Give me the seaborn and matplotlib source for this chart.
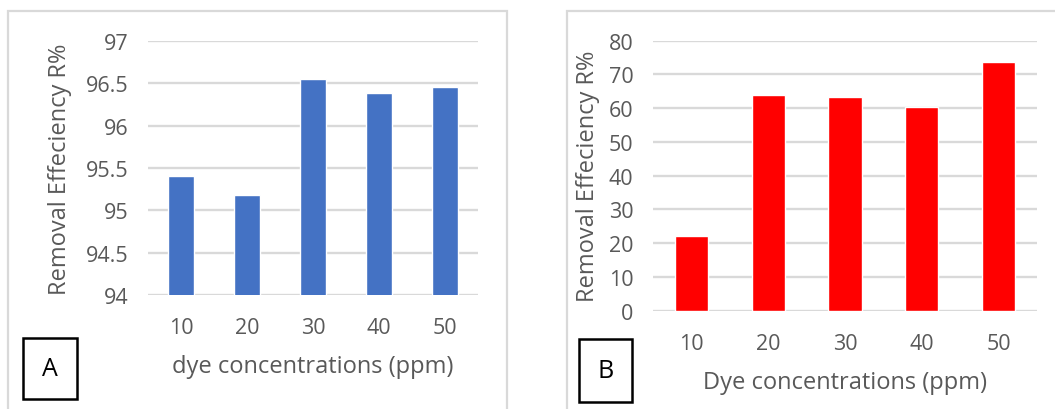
import matplotlib
matplotlib.use("Agg")
import matplotlib.pyplot as plt
from matplotlib.patches import Rectangle
from matplotlib.ticker import FuncFormatter
import seaborn as sns
import pandas as pd

# Data
conc = ["10", "20", "30", "40", "50"]
eff_a = [95.40, 95.18, 96.55, 96.38, 96.46]
eff_b = [22.0, 64.0, 63.2, 60.5, 73.6]
ticks_a = [94, 94.5, 95, 95.5, 96, 96.5, 97]
ticks_b = [0, 10, 20, 30, 40, 50, 60, 70, 80]

sns.set_style("white")
plt.rcParams['font.family'] = ['Open Sans', 'DejaVu Sans']

W, H = 1055, 410
GRAY = "#595959"
GRID = "#d9d9d9"

fig = plt.figure(figsize=(W / 100, H / 100), dpi=100)


def px_axes(x0, x1, ytop, ybot):
    return fig.add_axes([x0 / W, (H - ybot) / H, (x1 - x0) / W, (ybot - ytop) / H])


def style_axes(ax, ticks, ylim, xlabel):
    ax.set_ylim(*ylim)
    ax.set_yticks(ticks)
    ax.yaxis.set_major_formatter(FuncFormatter(lambda v, p: f"{v:g}"))
    ax.yaxis.grid(True, color=GRID, lw=1.7)
    ax.set_axisbelow(True)
    sns.despine(ax=ax, left=True, bottom=True)
    ax.tick_params(axis='both', length=0, labelsize=15.5, colors=GRAY)
    ax.tick_params(axis='y', pad=14)
    ax.tick_params(axis='x', pad=16)
    ax.set_ylabel("Removal Effeciency R%", fontsize=17, color=GRAY)
    ax.set_xlabel(xlabel, fontsize=17, color=GRAY)


df_a = pd.DataFrame({"conc": conc, "eff": eff_a})
df_b = pd.DataFrame({"conc": conc, "eff": eff_b})

# Panel A
ax1 = px_axes(148, 478, 42, 296)
sns.barplot(data=df_a, x="conc", y="eff", order=conc, color="#4472C4",
            saturation=1, width=0.38, ax=ax1)
style_axes(ax1, ticks_a, (94, 97), "dye concentrations (ppm)")
ax1.yaxis.set_label_coords(-0.267, 0.5)
ax1.xaxis.set_label_coords(0.5, -0.28)
ax1.xaxis.label.set_va('center')
ax1.yaxis.label.set_va('center')

# Panel B
ax2 = px_axes(653, 1037, 41.7, 311.7)
sns.barplot(data=df_b, x="conc", y="eff", order=conc, color="#FF0000",
            saturation=1, width=0.43, ax=ax2)
style_axes(ax2, ticks_b, (0, 80), "Dye concentrations (ppm)")
ax2.yaxis.set_label_coords(-0.169, 0.5)
ax2.xaxis.set_label_coords(0.5, -0.264)
ax2.xaxis.label.set_va('center')
ax2.yaxis.label.set_va('center')

# Panel frames (light gray, open at the bottom)
for x0, x1 in [(8, 507), (567, 1100)]:
    fig.add_artist(Rectangle((x0 / W, -0.1), (x1 - x0) / W, (H - 12) / H + 0.1,
                             transform=fig.transFigure, fill=False,
                             edgecolor=GRID, lw=1.6))

# Panel letter boxes
for (x0, x1, yt, yb), letter in [((23, 77, 339, 400), "A"), ((579, 632, 340, 403), "B")]:
    fig.add_artist(Rectangle((x0 / W, (H - yb) / H), (x1 - x0) / W, (yb - yt) / H,
                             transform=fig.transFigure, fill=False,
                             edgecolor="black", lw=1.8))
    fig.text((x0 + x1) / 2 / W, (H - (yt + yb) / 2) / H, letter,
             ha='center', va='center', fontsize=18, color='black')

fig.savefig("out.png", dpi=100)
